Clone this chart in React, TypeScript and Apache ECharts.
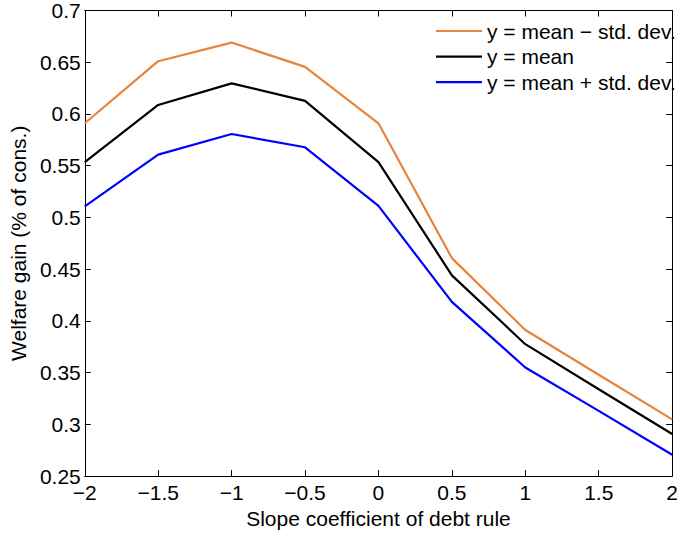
import React, { useEffect, useRef } from "react";
import * as echarts from "echarts";

const xValues = [-2, -1.5, -1, -0.5, 0, 0.5, 1, 1.5, 2];
const meanMinusStd = [0.591, 0.651, 0.669, 0.6455, 0.591, 0.4607, 0.3912, 0.348, 0.3048];
const meanValues = [0.5534, 0.6087, 0.6296, 0.6126, 0.5534, 0.444, 0.3775, 0.334, 0.2907];
const meanPlusStd = [0.5106, 0.5607, 0.5806, 0.5678, 0.5111, 0.4184, 0.355, 0.313, 0.2707];
const seriesNames = ["y = mean \u2212 std. dev.", "y = mean", "y = mean + std. dev."];
const seriesColors = ["#E8833A", "#000000", "#0000FF"];

const FONT = "'Liberation Sans', Arial, Helvetica, sans-serif";
const FS = 21;

function fmt(v: number): string {
  const r = parseFloat(v.toFixed(2));
  if (r < 0) return "\u2212" + String(Math.abs(r));
  return String(r);
}

export default function App() {
  const ref = useRef<HTMLDivElement>(null);
  useEffect(() => {
    if (!ref.current) return;
    const chart = echarts.init(ref.current, null, { renderer: "svg" });
    const seriesData = [meanMinusStd, meanValues, meanPlusStd];
    const axisCommon = {
      type: "value" as const,
      axisLine: { show: true, onZero: false, lineStyle: { color: "#000", width: 1 } },
      axisTick: { show: true, inside: true, length: 6, lineStyle: { color: "#000", width: 1 } },
      splitLine: { show: false },
    };
    chart.setOption({
      animation: false,
      backgroundColor: "#fff",
      grid: { left: 83, top: 10, width: 596, height: 469, containLabel: false },
      legend: {
        orient: "vertical",
        left: 436,
        top: 20,
        padding: 0,
        icon: "rect",
        itemWidth: 46,
        itemHeight: 2.2,
        itemGap: 3.6,
        data: seriesNames,
        textStyle: { fontFamily: FONT, fontSize: FS, color: "#000", lineHeight: 22 },
      },
      xAxis: [
        {
          ...axisCommon,
          position: "bottom",
          min: -2,
          max: 2,
          interval: 0.5,
          axisLabel: {
            fontFamily: FONT,
            fontSize: FS,
            color: "#000",
            margin: 6,
            formatter: fmt,
            showMinLabel: true,
            showMaxLabel: true,
          },
          name: "Slope coefficient of debt rule",
          nameLocation: "middle",
          nameGap: 28,
          nameTextStyle: { fontFamily: FONT, fontSize: FS, color: "#000" },
        },
        {
          ...axisCommon,
          position: "top",
          min: -2,
          max: 2,
          interval: 0.5,
          axisLabel: { show: false },
        },
      ],
      yAxis: [
        {
          ...axisCommon,
          position: "left",
          min: 0.25,
          max: 0.7,
          interval: 0.05,
          axisLabel: {
            fontFamily: FONT,
            fontSize: FS,
            color: "#000",
            margin: 4,
            formatter: fmt,
            showMinLabel: true,
            showMaxLabel: true,
          },
          name: "Welfare gain (% of cons.)",
          nameLocation: "middle",
          nameGap: 46,
          nameTextStyle: { fontFamily: FONT, fontSize: FS, color: "#000" },
        },
        {
          ...axisCommon,
          position: "right",
          min: 0.25,
          max: 0.7,
          interval: 0.05,
          axisLabel: { show: false },
        },
      ],
      series: seriesNames.map((name, i) => ({
        name,
        type: "line",
        xAxisIndex: 0,
        yAxisIndex: 0,
        data: xValues.map((x, j) => [x, seriesData[i][j]]),
        symbol: "none",
        lineStyle: { color: seriesColors[i], width: 2.2 },
        itemStyle: { color: seriesColors[i] },
        clip: true,
      })),
    });
    return () => chart.dispose();
  }, []);
  return (
    <div
      ref={ref}
      style={{ position: "fixed", left: 0, top: 0, width: 681, height: 534, background: "#fff" }}
    />
  );
}
